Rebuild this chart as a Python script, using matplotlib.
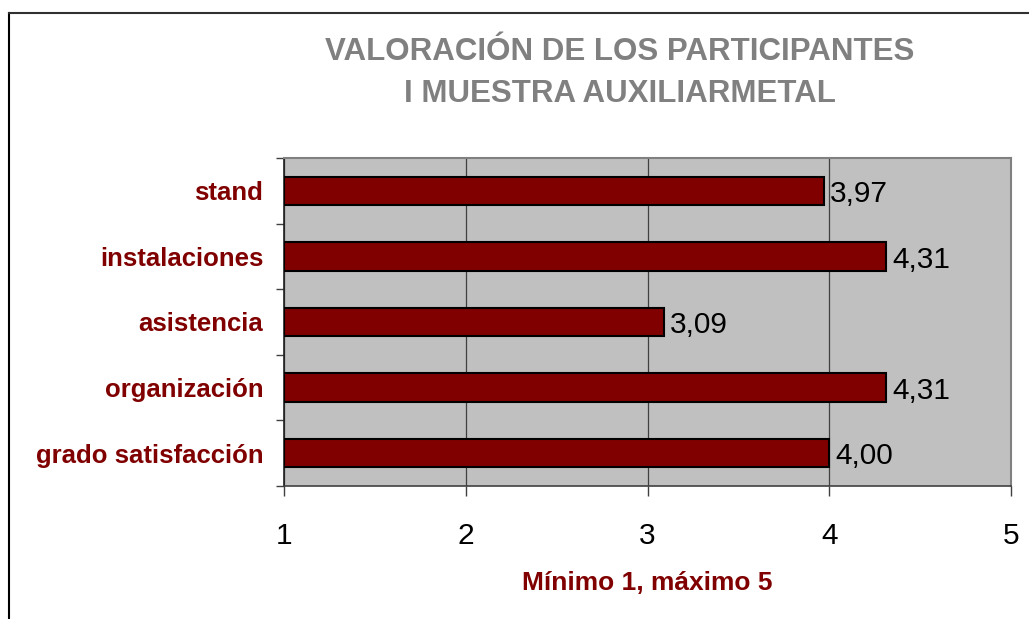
import matplotlib.pyplot as plt
from matplotlib.lines import Line2D
from matplotlib.ticker import FixedLocator

plt.rcParams['font.family'] = ['Liberation Sans', 'DejaVu Sans']

# datos (de arriba a abajo en el gráfico)
categorias = ['stand', 'instalaciones', 'asistencia', 'organización', 'grado satisfacción']
valores = [3.97, 4.31, 3.09, 4.31, 4.00]
ticks_x = [1, 2, 3, 4, 5]

rojo = '#800000'
W, H = 1029, 619
fig = plt.figure(figsize=(W / 100, H / 100), dpi=100)
ax = fig.add_axes([284 / W, 1 - 486 / H, (1011 - 284) / W, (486 - 158) / H])
ax.set_facecolor('#c0c0c0')

n = len(categorias)
pos = [n - 1 - i for i in range(n)]
ancho = [v - 1 for v in valores]
ax.barh(pos, ancho, left=1, height=0.43, color=rojo, edgecolor='black',
        linewidth=1.5, zorder=3)

for p, v in zip(pos, valores):
    ax.text(v + 0.035, p - 0.05, f'{v:.2f}'.replace('.', ','), va='center', ha='left',
            fontsize=21.5, color='black', zorder=4)

ax.set_xlim(1, 5)
ax.set_ylim(-0.5, n - 0.5)
ax.set_xticks(ticks_x)
ax.set_xticklabels([str(t) for t in ticks_x])
ax.xaxis.grid(True, color='#404040', linewidth=0.9, zorder=1)
ax.tick_params(axis='x', length=7, width=1, color='#404040', labelsize=21.5, pad=19)

ax.set_yticks(pos)
ax.set_yticklabels(categorias, fontsize=18.5, fontweight='bold', color=rojo)
ax.tick_params(axis='y', which='major', length=0, pad=15)
ax.yaxis.set_minor_locator(FixedLocator([k - 0.5 for k in range(n + 1)]))
ax.tick_params(axis='y', which='minor', length=6, width=1, color='#404040')

for lado in ['top', 'right']:
    ax.spines[lado].set_color('#808080')
    ax.spines[lado].set_linewidth(1.5)
ax.spines['left'].set_color('#202020')
ax.spines['bottom'].set_color('#404040')
ax.spines['left'].set_linewidth(1.2)
ax.spines['bottom'].set_linewidth(1.2)

ax.set_xlabel('Mínimo 1, máximo 5', fontsize=19, fontweight='bold', color=rojo, labelpad=15)

fig.text(620 / W, 1 - 73 / H, 'VALORACIÓN DE LOS PARTICIPANTES\nI MUESTRA AUXILIARMETAL',
         ha='center', va='center', fontsize=22.5, fontweight='bold', color='#808080',
         linespacing=1.5)

# marco exterior
fig.add_artist(Line2D([9 / W, 9 / W], [0, 1 - 13 / H], color='black', linewidth=1.5))
fig.add_artist(Line2D([9 / W, 1], [1 - 13 / H, 1 - 13 / H], color='#303030', linewidth=1.5))

fig.savefig('out.png', dpi=100)
